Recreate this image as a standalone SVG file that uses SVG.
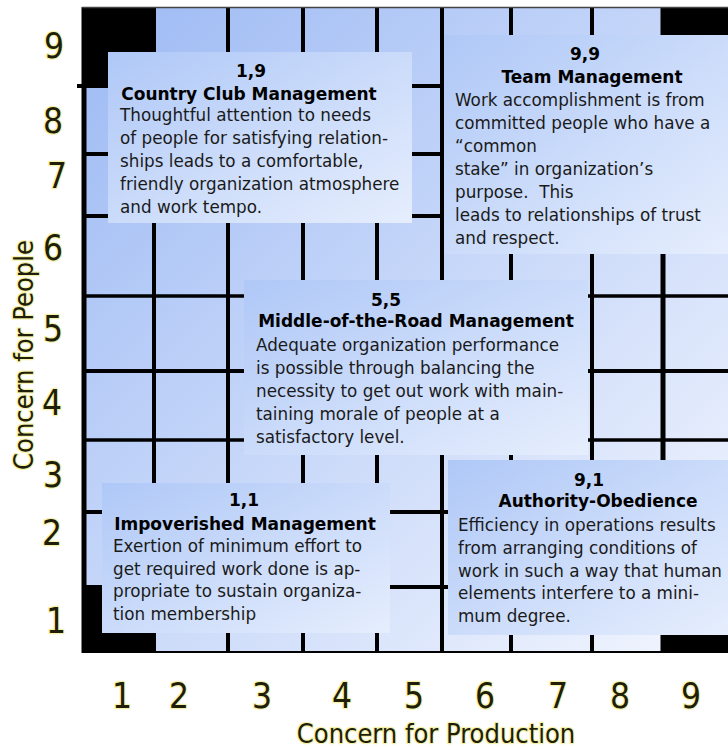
<svg xmlns="http://www.w3.org/2000/svg" width="728" height="750" viewBox="0 0 728 750">
  <defs>
    <linearGradient id="gridFill" gradientUnits="userSpaceOnUse" x1="82" y1="7" x2="728" y2="653">
      <stop offset="0" stop-color="#9dbaf4"/>
      <stop offset="1" stop-color="#f3f6fe"/>
    </linearGradient>
    <linearGradient id="panelFill" x1="0" y1="0" x2="1" y2="1">
      <stop offset="0" stop-color="#afc8f7"/>
      <stop offset="1" stop-color="#e6eefd"/>
    </linearGradient>
    <style>
      .axis { font-family: "DejaVu Sans Condensed", "DejaVu Sans", sans-serif; fill: #1e1e0a; stroke: #f2ee8c; stroke-width: 2.5; stroke-opacity: 0.75; paint-order: stroke; stroke-linejoin: round; }
      .num { font-size: 35px; text-anchor: middle; }
      .title { font-size: 27px; text-anchor: middle; }
      .grid line { stroke: #000; stroke-width: 4; }
      .panel rect { fill: url(#panelFill); }
      .panel text { font-family: "DejaVu Sans", "Verdana", sans-serif; font-size: 16.8px; fill: #1a1a1a; }
      .panel .hd { font-weight: bold; font-size: 17px; fill: #000; text-anchor: middle; }
    </style>
  </defs>

  <rect width="728" height="750" fill="#fff"/>

  <!-- grid field -->
  <g id="field">
    <rect x="82" y="8" width="646" height="644" fill="url(#gridFill)"/>
    <!-- solid corner cells -->
    <rect x="82" y="7" width="73" height="80" fill="#000"/>
    <rect x="82" y="586" width="73" height="67" fill="#000"/>
    <rect x="661" y="7" width="67" height="80" fill="#000"/>
    <rect x="661" y="587" width="67" height="66" fill="#000"/>
  </g>

  <!-- grid rules -->
  <g id="connectors" class="grid">
    <line x1="154" y1="8" x2="154" y2="652"/>
    <line x1="228" y1="8" x2="228" y2="652"/>
    <line x1="303" y1="8" x2="303" y2="652"/>
    <line x1="377" y1="8" x2="377" y2="652"/>
    <line x1="442" y1="8" x2="442" y2="652"/>
    <line x1="511" y1="8" x2="511" y2="652"/>
    <line x1="592" y1="8" x2="592" y2="652"/>
    <line x1="663" y1="8" x2="663" y2="652" style="stroke-width:5"/>
    <line x1="77" y1="86" x2="728" y2="86"/>
    <line x1="82" y1="154" x2="728" y2="154"/>
    <line x1="82" y1="216" x2="728" y2="216"/>
    <line x1="82" y1="296" x2="728" y2="296" style="stroke-width:3.5"/>
    <line x1="82" y1="371" x2="728" y2="371"/>
    <line x1="82" y1="440" x2="728" y2="440" style="stroke-width:3.5"/>
    <line x1="82" y1="512" x2="728" y2="512"/>
    <line x1="82" y1="587" x2="728" y2="587"/>
    <!-- frame -->
    <line x1="84" y1="7" x2="84" y2="653" style="stroke-width:5"/>
    <line x1="82" y1="7.5" x2="728" y2="7.5" style="stroke:#444;stroke-width:1.5"/>
    <line x1="82" y1="652" x2="728" y2="652" style="stroke-width:2"/>
  </g>

  <!-- style panels -->
  <g id="country-club" class="panel">
    <rect x="108" y="52" width="304" height="171"/>
    <text class="hd" x="251" y="77">1,9</text>
    <text class="hd" x="249" y="100">Country Club Management</text>
    <text x="120" y="121">Thoughtful attention to needs</text>
    <text x="120" y="144">of people for satisfying relation-</text>
    <text x="120" y="167">ships leads to a comfortable,</text>
    <text x="120" y="190">friendly organization atmosphere</text>
    <text x="120" y="213">and work tempo.</text>
  </g>

  <g id="team" class="panel">
    <rect x="444" y="35" width="284" height="219"/>
    <text class="hd" x="585" y="60">9,9</text>
    <text class="hd" x="592" y="83">Team Management</text>
    <text x="455" y="106">Work accomplishment is from</text>
    <text x="455" y="129">committed people who have a</text>
    <text x="455" y="152">“common</text>
    <text x="455" y="175">stake” in organization’s</text>
    <text x="455" y="198">purpose.&#160; This</text>
    <text x="455" y="221">leads to relationships of trust</text>
    <text x="455" y="244">and respect.</text>
  </g>

  <g id="middle-of-the-road" class="panel">
    <rect x="244" y="280" width="344" height="175"/>
    <text class="hd" x="386" y="306">5,5</text>
    <text class="hd" x="416" y="327">Middle-of-the-Road Management</text>
    <text x="256" y="351">Adequate organization performance</text>
    <text x="256" y="374">is possible through balancing the</text>
    <text x="256" y="397">necessity to get out work with main-</text>
    <text x="256" y="420">taining morale of people at a</text>
    <text x="256" y="443">satisfactory level.</text>
  </g>

  <g id="impoverished" class="panel">
    <rect x="102" y="483" width="288" height="150"/>
    <text class="hd" x="244" y="506">1,1</text>
    <text class="hd" x="245" y="530">Impoverished Management</text>
    <text x="113" y="552">Exertion of minimum effort to</text>
    <text x="113" y="575">get required work done is ap-</text>
    <text x="113" y="597">propriate to sustain organiza-</text>
    <text x="113" y="620">tion membership</text>
  </g>

  <g id="authority-obedience" class="panel">
    <rect x="448" y="460" width="280" height="175"/>
    <text class="hd" x="589" y="486">9,1</text>
    <text class="hd" x="598" y="507">Authority-Obedience</text>
    <text x="458" y="531">Efficiency in operations results</text>
    <text x="458" y="554">from arranging conditions of</text>
    <text x="458" y="577">work in such a way that human</text>
    <text x="458" y="599">elements interfere to a mini-</text>
    <text x="458" y="622">mum degree.</text>
  </g>

  <!-- axis scales and titles -->
  <g id="people-axis" class="axis">
    <text class="num" x="54" y="58">9</text>
    <text class="num" x="53" y="133">8</text>
    <text class="num" x="57" y="188">7</text>
    <text class="num" x="53" y="260">6</text>
    <text class="num" x="53" y="341">5</text>
    <text class="num" x="52" y="415">4</text>
    <text class="num" x="53" y="487">3</text>
    <text class="num" x="52" y="545">2</text>
    <text class="num" x="56" y="633">1</text>
    <text class="title" transform="translate(33 355) rotate(-90)">Concern for People</text>
  </g>

  <g id="production-axis" class="axis">
    <text class="num" x="122" y="708">1</text>
    <text class="num" x="179" y="708">2</text>
    <text class="num" x="262" y="708">3</text>
    <text class="num" x="342" y="708">4</text>
    <text class="num" x="414" y="708">5</text>
    <text class="num" x="485" y="708">6</text>
    <text class="num" x="558" y="708">7</text>
    <text class="num" x="620" y="708">8</text>
    <text class="num" x="691" y="708">9</text>
    <text class="title" x="436" y="743">Concern for Production</text>
  </g>
</svg>
